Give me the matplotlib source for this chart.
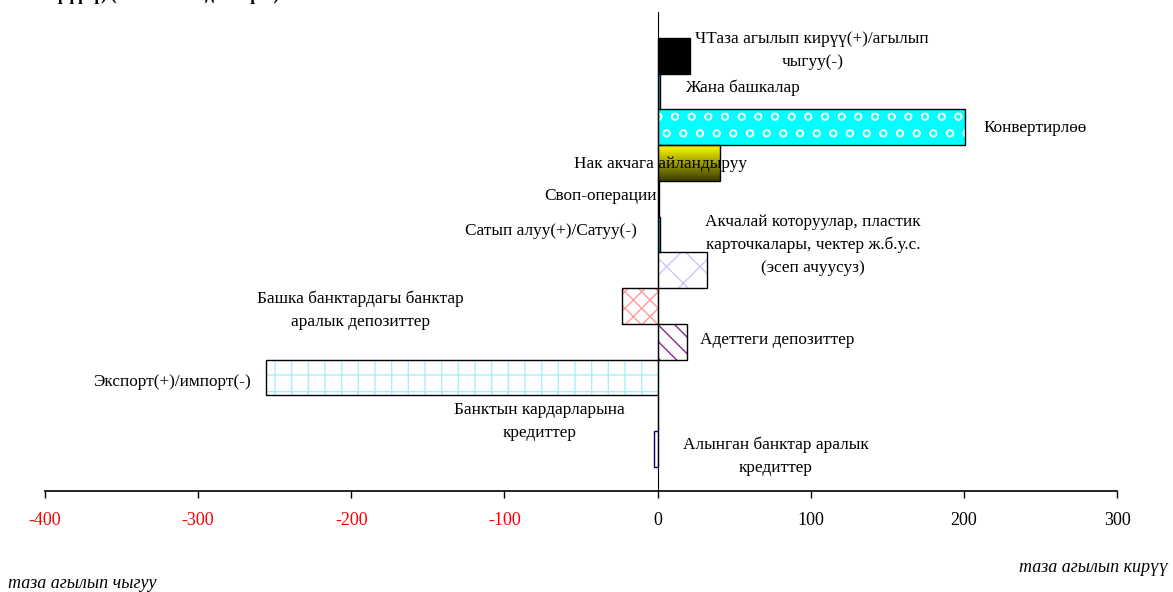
import numpy as np
import matplotlib.pyplot as plt
import matplotlib.colors as mcolors

plt.rcParams['font.family'] = ['Liberation Serif', 'DejaVu Serif']
plt.rcParams['hatch.linewidth'] = 1.0

# categories bottom -> top
categories = [
    "Алынган банктар аралык\nкредиттер",
    "Банктын кардарларына\nкредиттер",
    "Экспорт(+)/импорт(-)",
    "Адеттеги депозиттер",
    "Башка банктардагы банктар\nаралык депозиттер",
    "Акчалай которуулар, пластик\nкарточкалары, чектер ж.б.у.с.\n(эсеп ачуусуз)",
    "Сатып алуу(+)/Сатуу(-)",
    "Своп-операции",
    "Нак акчага айландыруу",
    "Конвертирлөө",
    "Жана башкалар",
    "ЧТаза агылып кирүү(+)/агылып\nчыгуу(-)",
]
values = [-2.5, 0, -256, 19, -23, 32, 1.5, 0.8, 41, 201, 1.5, 21]
xticks = [-400, -300, -200, -100, 0, 100, 200, 300]

# fill styles per bar: (face, hatch, hatch colour, edge)
styles = [
    ("white", None, None, "#000066"),
    ("white", None, None, "black"),
    ("white", "+", "#a8f0f8", "black"),
    ("white", "\\\\", "#8b2a8b", "black"),
    ("white", "xx", "#ff9a9a", "black"),
    ("white", "x", "#c8c8ff", "black"),
    ("#00b0f0", None, None, "black"),
    ("black", None, None, "black"),
    ("grad", None, None, "black"),
    ("#00ffff", "o", "white", "black"),
    ("#00c8f0", None, None, "black"),
    ("black", None, None, "black"),
]

# label anchor (x in data units, y in category units, ha)
label_pos = [
    (77, -0.2, "center"),
    (-77, 0.78, "center"),
    (-317, 1.87, "center"),
    (27.7, 3.04, "left"),
    (-194, 3.88, "center"),
    (101.5, 5.72, "center"),
    (-69.6, 6.11, "center"),
    (-0.8, 7.09, "right"),
    (1.6, 7.98, "center"),
    (246.5, 8.99, "center"),
    (18, 10.1, "left"),
    (101, 11.14, "center"),
]

fig = plt.figure(figsize=(11.73, 5.92), dpi=100)
ax = fig.add_axes([0.0384, 0.1706, 0.9139, 0.8091])

y = np.arange(len(categories))
for i, (v, st) in enumerate(zip(values, styles)):
    face, hatch, hcol, edge = st
    if face == "grad":
        bar = ax.barh(y[i], v, height=1.0, color="none", edgecolor=edge, linewidth=1.0, zorder=3)[0]
        cmap = mcolors.LinearSegmentedColormap.from_list("g", ["#ffff00", "#3a3a00"])
        grad = np.linspace(0, 1, 100).reshape(-1, 1)
        im = ax.imshow(grad, cmap=cmap, aspect="auto",
                       extent=[0, v, y[i] - 0.5, y[i] + 0.5], origin="upper", zorder=2)
        im.set_clip_path(bar)
        continue
    if hatch:
        ax.barh(y[i], v, height=1.0, color=face, edgecolor=hcol, hatch=hatch, linewidth=0, zorder=2)
        ax.barh(y[i], v, height=1.0, color="none", edgecolor=edge, linewidth=1.0, zorder=3)
    else:
        ax.barh(y[i], v, height=1.0, color=face, edgecolor=edge, linewidth=1.0, zorder=3)

for (lx, ly, ha), lab in zip(label_pos, categories):
    ax.text(lx, ly, lab, ha=ha, va="center", fontsize=12.4, linespacing=1.55, zorder=4)

ax.set_xlim(-400, 300)
ax.set_ylim(-1.17, 12.22)
ax.set_xticks(xticks)
ax.set_xticklabels([str(t) for t in xticks], fontsize=13)
for t, lab in zip(xticks, ax.get_xticklabels()):
    if t < 0:
        lab.set_color("red")
ax.tick_params(axis="x", direction="out", length=5, width=1, pad=10)
ax.set_yticks([])
ax.spines["top"].set_visible(False)
ax.spines["right"].set_visible(False)
ax.spines["left"].set_position(("data", 0))
ax.spines["left"].set_zorder(5)
ax.spines["bottom"].set_linewidth(1.2)

fig.text(1168 / 1173, 1 - 567 / 592, "таза агылып кирүү", ha="right", va="center",
         fontsize=13, style="italic")
fig.text(8 / 1173, 1 - 583 / 592, "таза агылып чыгуу", ha="left", va="center",
         fontsize=13, style="italic")
fig.text(38 / 1173, 1 - (-4) / 592, "кирүүсү) (млн. АКШ доллары)", ha="left", va="center",
         fontsize=12.4, fontweight="bold")

fig.savefig("out.png", dpi=100)
